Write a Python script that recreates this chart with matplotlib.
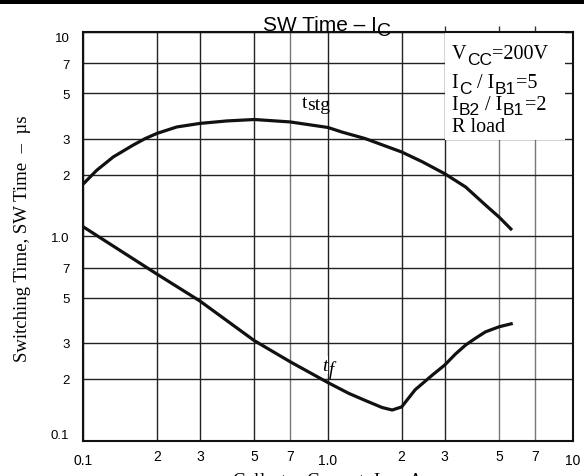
import matplotlib.pyplot as plt
from matplotlib.patches import Rectangle
from matplotlib.transforms import ScaledTranslation

# curves (Ic in A, time in us)
tstg_ic = [0.1, 0.1135, 0.1326, 0.16, 0.179, 0.2, 0.241, 0.3, 0.386, 0.5, 0.7, 1.0, 1.14, 1.42, 2.0, 2.43, 3.0, 3.65, 4.40, 5.0, 5.65]
tstg_t = [1.80, 2.10, 2.44, 2.79, 3.0, 3.18, 3.42, 3.56, 3.66, 3.72, 3.62, 3.40, 3.23, 3.0, 2.58, 2.31, 2.02, 1.74, 1.42, 1.24, 1.07]

tf_ic = [0.1, 0.2, 0.3, 0.5, 0.7, 1.0, 1.217, 1.42, 1.665, 1.83, 2.0, 2.27, 2.67, 3.0, 3.32, 3.65, 4.0, 4.40, 5.0, 5.69]
tf_t = [1.11, 0.652, 0.481, 0.308, 0.243, 0.192, 0.170, 0.157, 0.145, 0.141, 0.146, 0.177, 0.209, 0.234, 0.265, 0.293, 0.316, 0.34, 0.36, 0.374]

grid_ticks = [0.1, 0.2, 0.3, 0.5, 0.7, 1.0, 2, 3, 5, 7, 10]
x_labels = ['0.1', '2', '3', '5', '7', '1.0', '2', '3', '5', '7', '10']
y_labels = ['0.1', '2', '3', '5', '7', '1.0', '2', '3', '5', '7', '10']

SERIF = 'Liberation Serif'
SANS = 'Liberation Sans'

fig = plt.figure(figsize=(5.84, 4.77), dpi=100)
ax = fig.add_axes([0.1426, 0.0744, 0.838, 0.857])
ax.set_xscale('log')
ax.set_yscale('log')
ax.set_xlim(0.1, 10)
ax.set_ylim(0.1, 10)

ax.set_xticks(grid_ticks)
ax.set_xticklabels(x_labels)
ax.set_yticks(grid_ticks)
ax.set_yticklabels(y_labels)
ax.minorticks_off()
ax.tick_params(axis='x', length=0, labelsize=10, pad=6)
ax.tick_params(axis='y', length=0, labelsize=9.5, pad=10)
for lab in ax.get_xticklabels() + ax.get_yticklabels():
    lab.set_fontfamily(SANS)

# decade labels sit a little lower on the x axis
for lab in ax.get_xticklabels():
    if lab.get_text() in ('0.1', '1.0', '10'):
        lab.set_transform(lab.get_transform() + ScaledTranslation(0, -3 / 72, fig.dpi_scale_trans))
ylabs = ax.get_yticklabels()
ylabs[0].set_va('bottom')
ylabs[-1].set_va('top')

ax.grid(True, color='#222222', lw=1.0)
ax.set_axisbelow(True)
for i, gl in enumerate(ax.get_xgridlines()):
    if grid_ticks[i] in (0.7, 5, 7):
        gl.set_color('#777777')

for s in ax.spines.values():
    s.set_linewidth(1.5)
    s.set_color('#111111')

# small ticks above the frame
top = ax.secondary_xaxis('top')
top.set_xticks([3, 5, 7])
top.set_xticklabels([])
top.tick_params(length=4, width=1.0, color='#333333', direction='out')
top.minorticks_off()

ax.plot(tstg_ic, tstg_t, color='#111111', lw=2.3, solid_capstyle='butt', solid_joinstyle='round', zorder=3)
ax.plot(tf_ic, tf_t, color='#111111', lw=2.3, solid_capstyle='butt', solid_joinstyle='round', zorder=3)


def chain(first, parts, ycoords, y, gap=0.3):
    # put text pieces one after another on the same baseline, subscripts dropped
    prev = first
    for s, drop, size, fam, style in parts:
        prev = ax.annotate(s, xy=(1, y), xycoords=(prev, ycoords), xytext=(gap, -drop),
                           textcoords='offset points', va='baseline', ha='left',
                           fontsize=size, family=fam, style=style, zorder=5,
                           annotation_clip=False)
    return prev


# curve labels
t1 = ax.text(0.78, 4.3, 't', fontsize=14, family=SERIF, va='baseline', ha='left', zorder=4)
chain(t1, [('stg', 2, 14, SERIF, 'normal')], ax.transData, 4.3, gap=0)
t2 = ax.text(0.95, 0.222, 't', fontsize=14, family=SERIF, style='italic', va='baseline', ha='left',
             zorder=4, bbox=dict(facecolor='white', edgecolor='none', pad=0.3))
chain(t2, [('f', 3, 13.5, SERIF, 'italic')], ax.transData, 0.222)

# white box with the test conditions
ax.add_patch(Rectangle((0.739, 0.735), 0.245, 0.265, transform=ax.transAxes,
                       facecolor='white', edgecolor='none', zorder=2))
cond_lines = [
    [('V', 'm'), ('CC', 's'), ('=200V', 'm')],
    [('I', 'm'), ('C', 's'), (' / I', 'm'), ('B1', 's'), ('=5', 'm')],
    [('I', 'm'), ('B2', 's'), (' / I', 'm'), ('B1', 's'), ('=2', 'm')],
    [('R load', 'm')],
]
cond_y = [0.935, 0.864, 0.8105, 0.757]
for line, yy in zip(cond_lines, cond_y):
    first = ax.text(0.753, yy, line[0][0], transform=ax.transAxes, fontsize=14.5, family=SERIF,
                    va='baseline', ha='left', zorder=5)
    parts = []
    for s, kind in line[1:]:
        if kind == 's':
            parts.append((s, 3.8, 12.5, SANS, 'normal'))
        else:
            parts.append((s, 0, 14.5, SERIF, 'normal'))
    chain(first, parts, ax.transAxes, yy)

# title with its big subscript
ttl = ax.annotate('SW Time \u2013 I', xy=(0.450, 0.935), xycoords='figure fraction', fontsize=15,
                  family=SANS, ha='left', va='baseline', annotation_clip=False)
chain(ttl, [('C', 3.5, 14, SANS, 'normal')], fig.transFigure, 0.935)

fig.text(0.038, 0.5, 'Switching Time, SW Time  \u2013  \u00b5s', fontsize=13.5,
         family=SERIF, rotation=90, ha='center', va='center')
fig.text(0.561, 0.012, 'Collector Current, I$_\\mathsf{C}$ \u2013 A', fontsize=13.5,
         family=SERIF, ha='center', va='top')

fig.add_artist(Rectangle((0, 1 - 5 / 477), 1, 5 / 477, transform=fig.transFigure,
                         facecolor='black', edgecolor='none'))

fig.savefig('out.png', dpi=100)
